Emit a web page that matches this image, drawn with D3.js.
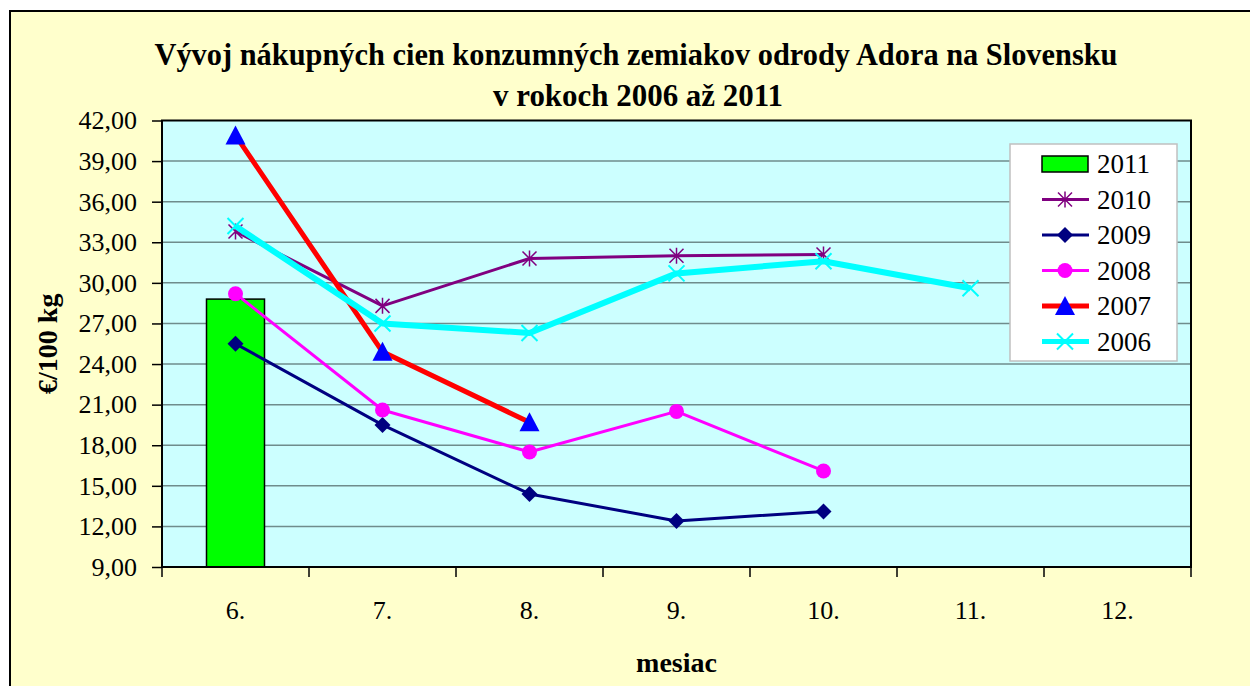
<!DOCTYPE html>
<html>
<head>
  <meta charset="utf-8">
  <title>Vývoj nákupných cien zemiakov Adora</title>
  <style>
    body { margin: 0; background: #fff; }
    svg text { font-family: "Liberation Serif", "Times New Roman", Times, "DejaVu Serif", serif !important; fill: #000; }
  </style>
</head>
<body>
  <div id="chart"></div>
  <script src="https://cdn.jsdelivr.net/npm/d3@7"></script>
  <script>

    function translate(x, y) {
      return 'translate(' + x + ', ' + y + ')';
    }

    // data
    let months = ['6.', '7.', '8.', '9.', '10.', '11.', '12.'];
    let yTicks = [9, 12, 15, 18, 21, 24, 27, 30, 33, 36, 39, 42];
    let v2011 = [28.8];
    let v2010 = [33.8, 28.3, 31.8, 32.0, 32.1];
    let v2009 = [25.5, 19.5, 14.4, 12.4, 13.1];
    let v2008 = [29.2, 20.6, 17.5, 20.5, 16.1];
    let v2007 = [40.9, 24.9, 19.7];
    let v2006 = [34.2, 27.0, 26.3, 30.7, 31.6, 29.6];

    let lineSeries = [
      {name: '2010', values: v2010, color: '#800080', width: 3, marker: 'star', mcolor: '#800080'},
      {name: '2009', values: v2009, color: '#000080', width: 3, marker: 'diamond', mcolor: '#000080'},
      {name: '2008', values: v2008, color: '#ff00ff', width: 3, marker: 'circle', mcolor: '#ff00ff'},
      {name: '2007', values: v2007, color: '#ff0000', width: 5, marker: 'triangle', mcolor: '#0000ff'},
      {name: '2006', values: v2006, color: '#00ffff', width: 6, marker: 'cross', mcolor: '#00ffff'}
    ];

    let svgWidth = 1250;
    let svgHeight = 686;
    let plot = {left: 162, top: 120.5, right: 1191, bottom: 567};

    let svg = d3.select('#chart')
      .append('svg')
        .attr('width', svgWidth)
        .attr('height', svgHeight);

    // chart area
    svg.append('rect')
      .attr('x', 10).attr('y', 11)
      .attr('width', 1250).attr('height', 700)
      .style('fill', '#ffffcc')
      .style('stroke', '#000')
      .style('stroke-width', 2);

    let x = d3.scaleBand()
      .domain(months)
      .range([plot.left, plot.right]);

    let y = d3.scaleLinear()
      .domain([9, 42])
      .range([plot.bottom, plot.top]);

    // plot area
    svg.append('rect')
      .attr('x', plot.left).attr('y', plot.top)
      .attr('width', plot.right - plot.left)
      .attr('height', plot.bottom - plot.top)
      .style('fill', '#ccffff');

    svg.append('g')
      .selectAll('line')
      .data(yTicks.slice(1, -1))
      .enter()
      .append('line')
        .attr('x1', plot.left).attr('x2', plot.right)
        .attr('y1', d => y(d)).attr('y2', d => y(d))
        .style('stroke', '#6f8c8c')
        .style('stroke-width', 1.5);

    // 2011 bar
    let barW = 58;
    svg.append('g')
      .selectAll('rect')
      .data(v2011)
      .enter()
      .append('rect')
        .attr('x', (d, i) => x(months[i]) + x.bandwidth() / 2 - barW / 2)
        .attr('y', d => y(d))
        .attr('width', barW)
        .attr('height', d => y(9) - y(d))
        .style('fill', '#00ff00')
        .style('stroke', '#000')
        .style('stroke-width', 1.5);

    // plot border
    svg.append('rect')
      .attr('x', plot.left).attr('y', plot.top)
      .attr('width', plot.right - plot.left)
      .attr('height', plot.bottom - plot.top)
      .style('fill', 'none')
      .style('stroke', '#000')
      .style('stroke-width', 2);

    // axes
    let yAxis = d3.axisLeft(y)
      .tickValues(yTicks)
      .tickFormat(d => d.toFixed(2).replace('.', ','))
      .tickSize(10)
      .tickPadding(15);

    let gy = svg.append('g')
      .attr('transform', translate(plot.left, 0))
      .call(yAxis);
    gy.attr('font-family', 'Liberation Serif');
    gy.select('.domain').remove();
    gy.selectAll('line').style('stroke', '#000').style('stroke-width', 1.5);
    gy.selectAll('text')
      .style('font-size', '26px');

    let xAxis = d3.axisBottom(x)
      .tickSize(0)
      .tickPadding(34);

    let gx = svg.append('g')
      .attr('transform', translate(0, plot.bottom))
      .call(xAxis);
    gx.attr('font-family', 'Liberation Serif');
    gx.select('.domain').remove();
    gx.selectAll('text')
      .style('font-size', '26px');

    // tick marks on category boundaries
    svg.append('g')
      .selectAll('line')
      .data(months.concat(['end']))
      .enter()
      .append('line')
        .attr('x1', (d, i) => i < months.length ? x(d) : plot.right)
        .attr('x2', (d, i) => i < months.length ? x(d) : plot.right)
        .attr('y1', plot.bottom)
        .attr('y2', plot.bottom + 10)
        .style('stroke', '#000')
        .style('stroke-width', 1.5);

    // markers
    function drawMarker(g, type, color) {
      if (type === 'star') {
        g.append('path')
          .attr('d', 'M-7,-7L7,7M-7,7L7,-7M0,-8L0,8')
          .style('stroke', color).style('stroke-width', 1.5).style('fill', 'none');
      } else if (type === 'diamond') {
        g.append('path')
          .attr('d', 'M0,-8L8,0L0,8L-8,0Z')
          .style('fill', color);
      } else if (type === 'circle') {
        g.append('circle')
          .attr('r', 7.5)
          .style('fill', color);
      } else if (type === 'triangle') {
        g.append('path')
          .attr('d', 'M0,-10L10,9L-10,9Z')
          .style('fill', color);
      } else if (type === 'cross') {
        g.append('path')
          .attr('d', 'M-8,-8L8,8M-8,8L8,-8')
          .style('stroke', color).style('stroke-width', 2).style('fill', 'none');
      }
    }

    let line = d3.line()
      .x((d, i) => x(months[i]) + x.bandwidth() / 2)
      .y(d => y(d));

    lineSeries.forEach(function(s) {
      let g = svg.append('g');
      g.append('path')
        .datum(s.values)
        .attr('d', line)
        .style('fill', 'none')
        .style('stroke', s.color)
        .style('stroke-width', s.width)
        .style('stroke-linejoin', 'round');
      s.values.forEach(function(v, i) {
        let m = g.append('g')
          .attr('transform', translate(x(months[i]) + x.bandwidth() / 2, y(v)));
        drawMarker(m, s.marker, s.mcolor);
      });
    });

    // legend
    let legend = svg.append('g');
    legend.append('rect')
      .attr('x', 1010).attr('y', 144)
      .attr('width', 167).attr('height', 217)
      .style('fill', '#fff')
      .style('stroke', '#c0c0c0')
      .style('stroke-width', 1.5);

    let legendItems = [{name: '2011', bar: true}].concat(lineSeries);
    let item = legend.selectAll('.item')
      .data(legendItems)
      .enter()
      .append('g')
        .attr('class', 'item')
        .attr('transform', (d, i) => translate(1065, 164 + i * 35.5));

    item.each(function(d) {
      let g = d3.select(this);
      if (d.bar) {
        g.append('rect')
          .attr('x', -23).attr('y', -8)
          .attr('width', 46).attr('height', 16)
          .style('fill', '#00ff00')
          .style('stroke', '#000')
          .style('stroke-width', 1.5);
      } else {
        g.append('line')
          .attr('x1', -23).attr('x2', 24)
          .style('stroke', d.color)
          .style('stroke-width', Math.min(d.width, 5));
        drawMarker(g, d.marker, d.mcolor);
      }
      g.append('text')
        .attr('x', 32)
        .attr('dy', '0.35em')
        .style('font-size', '27px')
        .text(d.name);
    });

    // titles
    svg.append('text')
      .attr('x', 636).attr('y', 65)
      .style('text-anchor', 'middle')
      .style('font-size', '31px')
      .style('font-weight', 'bold')
      .attr('textLength', 963)
      .attr('lengthAdjust', 'spacingAndGlyphs')
      .text('Vývoj nákupných cien konzumných zemiakov odrody Adora  na Slovensku');

    svg.append('text')
      .attr('x', 638).attr('y', 106)
      .style('text-anchor', 'middle')
      .style('font-size', '31px')
      .style('font-weight', 'bold')
      .attr('textLength', 290)
      .attr('lengthAdjust', 'spacingAndGlyphs')
      .text('v rokoch 2006 až 2011');

    svg.append('text')
      .attr('x', (plot.left + plot.right) / 2).attr('y', 672)
      .style('text-anchor', 'middle')
      .style('font-size', '28px')
      .style('font-weight', 'bold')
      .text('mesiac');

    svg.append('text')
      .attr('transform', translate(57, (plot.top + plot.bottom) / 2) + ' rotate(-90)')
      .style('text-anchor', 'middle')
      .style('font-size', '28px')
      .style('font-weight', 'bold')
      .text('€/100 kg');

  </script>
</body>
</html>
